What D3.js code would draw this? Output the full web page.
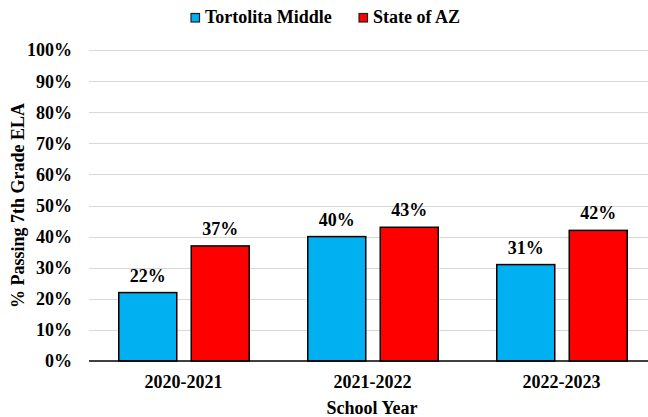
<!DOCTYPE html>
<html><head><meta charset="utf-8">
<script src="https://cdn.jsdelivr.net/npm/d3@7"></script>
<style>
html,body{margin:0;padding:0;background:#fff;}
</style></head>
<body><svg id="c" width="648" height="417"></svg>
<script>
const categories = ["2020-2021", "2021-2022", "2022-2023"];
const seriesNames = ["Tortolita Middle", "State of AZ"];
const tortolita = [22, 40, 31];
const stateAZ = [37, 43, 42];
const yTicks = [0, 10, 20, 30, 40, 50, 60, 70, 80, 90, 100];
const colors = ["#00B0F0", "#FF0000"];

const FONT = "'Times New Roman', 'Liberation Serif', Tinos, 'DejaVu Serif', serif";
const svg = d3.select("#c");
const W = 648, H = 417;
const m = {left: 89, top: 50, bottom: 361, right: 656};

const x = d3.scaleBand().domain(categories).range([m.left, m.right]).paddingInner(0).paddingOuter(0);
const y = d3.scaleLinear().domain([0, 100]).range([m.bottom, m.top]);
const bw = 58, gap = 14.5;

function styleText(sel) {
  sel.style("font-family", FONT).style("font-weight", "bold").style("font-size", "18px").attr("fill", "#000");
}

// gridlines
svg.append("g").selectAll("line").data(yTicks.filter(d => d > 0)).join("line")
  .attr("x1", m.left).attr("x2", W)
  .attr("y1", d => Math.round(y(d)) + 0.5).attr("y2", d => Math.round(y(d)) + 0.5)
  .attr("stroke", "#d9d9d9").attr("stroke-width", 1);

// y axis labels
const yAxis = d3.axisLeft(y).tickValues(yTicks).tickFormat(d => d + "%").tickSize(0).tickPadding(0);
const ga = svg.append("g").attr("transform", `translate(72,0)`).call(yAxis);
ga.select(".domain").remove();
ga.selectAll("text").call(styleText).attr("dy", "0.33em");

const data = categories.map((c, i) => ({cat: c, vals: [
  {s: seriesNames[0], v: tortolita[i], c: colors[0]},
  {s: seriesNames[1], v: stateAZ[i], c: colors[1]}]}));

const groupW = 2 * bw + gap;
const g = svg.append("g").selectAll("g").data(data).join("g")
  .attr("transform", d => `translate(${x(d.cat) + x.bandwidth() / 2 - groupW / 2 + 0.5},0)`);

g.selectAll("rect").data(d => d.vals).join("rect")
  .attr("x", (d, i) => i * (bw + gap))
  .attr("y", d => y(d.v))
  .attr("width", bw)
  .attr("height", d => y(0) - y(d.v))
  .attr("fill", d => d.c)
  .attr("stroke", "#000").attr("stroke-width", 1.5);

g.selectAll("text").data(d => d.vals).join("text")
  .attr("x", (d, i) => i * (bw + gap) + bw / 2)
  .attr("y", d => y(d.v) - 11)
  .attr("text-anchor", "middle")
  .text(d => d.v + "%").call(styleText);

// baseline
svg.append("line").attr("x1", m.left).attr("x2", W).attr("y1", y(0)).attr("y2", y(0))
  .attr("stroke", "#000").attr("stroke-width", 1.5);

// x axis labels
const xAxis = d3.axisBottom(x).tickSize(0).tickPadding(0);
const gx = svg.append("g").attr("transform", `translate(0,${y(0)})`).call(xAxis);
gx.select(".domain").remove();
gx.selectAll("text").call(styleText).attr("dy", null).attr("y", 27);

// axis titles
svg.append("text").attr("x", 372).attr("y", 414).attr("text-anchor", "middle").text("School Year").call(styleText);
svg.append("text").attr("transform", `translate(24,${(m.top + m.bottom) / 2}) rotate(-90)`)
  .attr("text-anchor", "middle").text("% Passing 7th Grade ELA").call(styleText);

// legend
const leg = [{n: seriesNames[0], c: colors[0], bx: 191, tx: 205}, {n: seriesNames[1], c: colors[1], bx: 359, tx: 373}];
const lg = svg.append("g").selectAll("g").data(leg).join("g");
lg.append("rect").attr("x", d => d.bx).attr("y", 13.5).attr("width", 8.5).attr("height", 8.5)
  .attr("fill", d => d.c).attr("stroke", "#222").attr("stroke-width", 1.2);
lg.append("text").attr("x", d => d.tx).attr("y", 23).text(d => d.n).call(styleText);
</script></body></html>
